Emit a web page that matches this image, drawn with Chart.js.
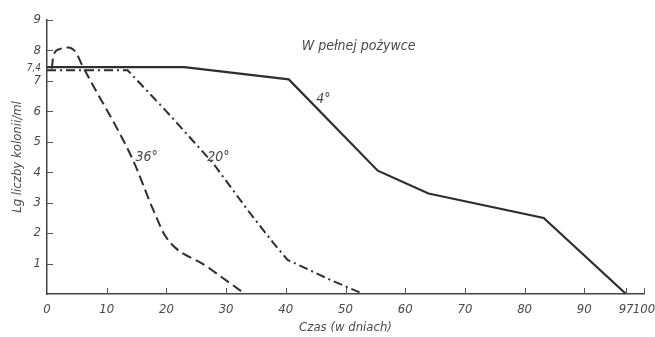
<!DOCTYPE html>
<html>
<head>
<meta charset="utf-8">
<script src="https://cdn.jsdelivr.net/npm/chart.js@4"></script>
<style>
  html, body { margin: 0; padding: 0; background: #fff; }
  #wrap { width: 655px; height: 337px; }
</style>
</head>
<body>
<div id="wrap"><canvas id="chart" width="655" height="337"></canvas></div>
<script>
// days and lg(colonies/ml)
const days4 = [0, 23, 40.5, 55.4, 63.9, 83.2, 97];
const lg4 = [7.45, 7.45, 7.05, 4.05, 3.3, 2.5, 0];

const days20 = [0, 13.5, 20, 27.8, 33.6, 37.9, 40.3, 47.5, 53];
const lg20 = [7.35, 7.35, 6.0, 4.3, 2.76, 1.68, 1.12, 0.46, 0];

const days36 = [0.8, 1.1, 2.2, 3.5, 4.8, 5.8, 14.4, 17.8, 20, 26.8, 33.2];
const lg36 = [7.4, 7.85, 8.05, 8.1, 7.95, 7.55, 4.4, 2.76, 1.85, 0.9, 0];

const xTicks = [0, 10, 20, 30, 40, 50, 60, 70, 80, 90, 97, 100];
const yTicks = [1, 2, 3, 4, 5, 6, 7, 7.4, 8, 9];
const yTickLabels = ['1', '2', '3', '4', '5', '6', '7', '7,4', '8', '9'];

// text annotations: [text, day, lg]
const notes = [
    ['W pełnej pożywce', 52.2, 8.15],
    ['4°', 46.3, 6.4],
    ['36°', 16.7, 4.5],
    ['20°', 28.7, 4.5]
];

const ink = '#2e2e2e';
const textInk = '#4a4a4a';
const family = '"DejaVu Sans Condensed", "DejaVu Sans", sans-serif';
const font = { family: family, style: 'italic', size: 13 };

const toPoints = (xs, ys) => xs.map((x, i) => ({ x: x, y: ys[i] }));

// ticks are drawn inward from the axis lines
const innerTicks = {
    id: 'innerTicks',
    afterDraw(chart) {
        const { ctx, scales: { x, y } } = chart;
        ctx.save();
        ctx.strokeStyle = '#555';
        ctx.lineWidth = 1;
        ctx.beginPath();
        y.ticks.forEach((t) => {
            if (t.value === 7.4) return;
            const py = Math.round(y.getPixelForValue(t.value)) + 0.5;
            ctx.moveTo(x.left, py);
            ctx.lineTo(x.left + 6, py);
        });
        x.ticks.forEach((t) => {
            if (t.value === 0) return;
            const px = Math.round(x.getPixelForValue(t.value)) + 0.5;
            ctx.moveTo(px, y.bottom);
            ctx.lineTo(px, y.bottom - 6);
        });
        ctx.stroke();
        ctx.restore();
    }
};

const noteLabels = {
    id: 'noteLabels',
    afterDatasetsDraw(chart) {
        const { ctx, scales: { x, y } } = chart;
        ctx.save();
        ctx.fillStyle = textInk;
        ctx.font = 'italic 14px ' + family;
        ctx.textAlign = 'center';
        ctx.textBaseline = 'middle';
        notes.forEach(([text, dx, dy]) => {
            ctx.fillText(text, x.getPixelForValue(dx), y.getPixelForValue(dy));
        });
        ctx.restore();
    }
};

new Chart(
    document.getElementById('chart'),
    {
        type: 'line',
        data: {
            datasets: [
                {
                    label: '4°',
                    data: toPoints(days4, lg4),
                    borderColor: ink,
                    borderWidth: 2.2
                },
                {
                    label: '20°',
                    data: toPoints(days20, lg20),
                    borderColor: ink,
                    borderWidth: 2,
                    borderDash: [9, 4, 2, 4]
                },
                {
                    label: '36°',
                    data: toPoints(days36, lg36),
                    borderColor: ink,
                    borderWidth: 2,
                    borderDash: [10, 5],
                    cubicInterpolationMode: 'monotone'
                }
            ]
        },
        options: {
            responsive: false,
            animation: false,
            elements: {
                point: { radius: 0 },
                line: { fill: false }
            },
            layout: {
                padding: { top: 20, right: 0, left: 10, bottom: 0 }
            },
            plugins: {
                legend: { display: false },
                tooltip: { enabled: false }
            },
            scales: {
                x: {
                    type: 'linear',
                    min: 0,
                    max: 100,
                    afterBuildTicks: (scale) => {
                        scale.ticks = xTicks.map((v) => ({ value: v }));
                    },
                    afterFit: (scale) => {
                        scale.height = 43;
                        scale.paddingRight = 11;
                        scale.paddingLeft = 0;
                    },
                    grid: { display: false, drawTicks: false },
                    border: { display: true, color: '#444', width: 1.5 },
                    ticks: {
                        autoSkip: false,
                        maxRotation: 0,
                        padding: 8,
                        color: textInk,
                        font: font,
                        callback: (value) => String(value)
                    },
                    title: {
                        display: true,
                        text: 'Czas (w dniach)',
                        color: textInk,
                        font: font,
                        padding: { top: 0, bottom: 2 }
                    }
                },
                y: {
                    type: 'linear',
                    min: 0,
                    max: 9,
                    afterBuildTicks: (scale) => {
                        scale.ticks = yTicks.map((v) => ({ value: v }));
                    },
                    afterFit: (scale) => {
                        scale.width = 37;
                    },
                    grid: { display: false, drawTicks: false },
                    border: { display: true, color: '#444', width: 1.5 },
                    ticks: {
                        autoSkip: false,
                        padding: 6,
                        color: textInk,
                        font: (ctx) => ctx.tick && ctx.tick.value === 7.4
                            ? { family: family, style: 'italic', size: 10 }
                            : font,
                        callback: (value) => yTickLabels[yTicks.indexOf(value)]
                    },
                    title: {
                        display: true,
                        text: 'Lg liczby kolonii/ml',
                        color: textInk,
                        font: font,
                        padding: { top: 0, bottom: 0 }
                    }
                }
            }
        },
        plugins: [innerTicks, noteLabels]
    }
);
</script>
</body>
</html>
